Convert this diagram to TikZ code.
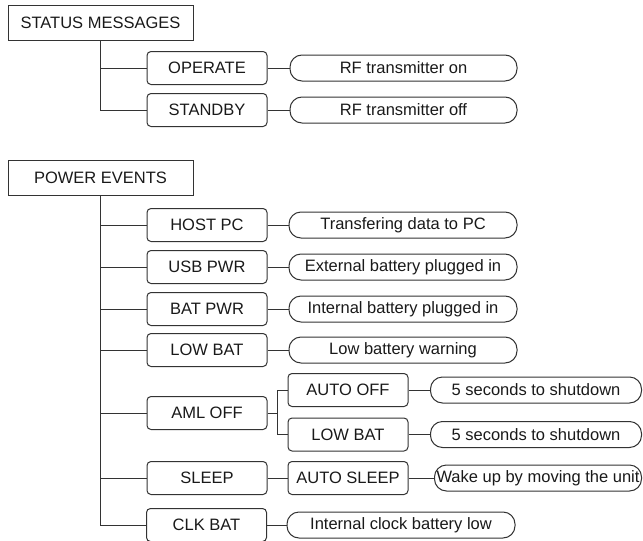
\documentclass[tikz,border=0pt]{standalone}
\usepackage{fontspec}
\setmainfont{Liberation Sans}
\usetikzlibrary{calc}
\begin{document}
\begin{tikzpicture}[x=1pt,y=-1pt,
  every node/.style={font=\fontsize{16.5}{19}\selectfont, text=black!90, draw=black!80, line width=1pt, inner sep=0pt},
  topbox/.style={rectangle, minimum width=185pt, minimum height=35pt},
  stepbox/.style={rectangle, rounded corners=4pt, minimum width=120pt, minimum height=33pt},
  termbox/.style={rectangle, rounded corners=12pt, minimum height=26pt},
  conn/.style={draw=black!80, line width=1pt}]
\useasboundingbox (0,0) rectangle (643,541);
% status messages
\node[topbox] (sm) at (100.5,22.5) {STATUS MESSAGES};
\node[stepbox] (op) at (207,68) {OPERATE};
\node[stepbox] (sb) at (207,110) {STANDBY};
\node[termbox, minimum width=227pt] (ton) at (403.5,68) {RF transmitter on};
\node[termbox, minimum width=227pt] (toff) at (403.5,110) {RF transmitter off};
\draw[conn] (sm.south) |- (sb.west);
\draw[conn] (sm.south |- op.west) -- (op.west);
\draw[conn] (op.east) -- (ton.west);
\draw[conn] (sb.east) -- (toff.west);
% power events
\node[topbox] (pe) at (100.5,177.5) {POWER EVENTS};
\node[stepbox] (hp) at (207,225) {HOST PC};
\node[stepbox] (usb) at (207,267) {USB PWR};
\node[stepbox] (bat) at (207,309) {BAT PWR};
\node[stepbox] (low) at (207,350) {LOW BAT};
\node[stepbox] (aml) at (207,413) {AML OFF};
\node[stepbox] (slp) at (207,478) {SLEEP};
\node[stepbox] (clk) at (206.5,525) {CLK BAT};
\node[stepbox] (ao) at (348,390) {AUTO OFF};
\node[stepbox] (lb) at (348,434.5) {LOW BAT};
\node[stepbox] (as) at (348,478) {AUTO SLEEP};
\node[termbox, minimum width=228pt] (thp) at (403,225) {Transfering data to PC};
\node[termbox, minimum width=228pt] (tusb) at (403,267) {External battery plugged in};
\node[termbox, minimum width=228pt] (tbat) at (403,309) {Internal battery plugged in};
\node[termbox, minimum width=228pt] (tlow) at (403,350) {Low battery warning};
\node[termbox, minimum width=228pt] (tclk) at (401,525) {Internal clock battery low};
\node[termbox, minimum width=211pt] (tao) at (536,390) {5 seconds to shutdown};
\node[termbox, minimum width=211pt] (tlb) at (536,434.5) {5 seconds to shutdown};
\node[termbox, minimum width=207pt] (twk) at (538,478) {Wake up by moving the unit};
\draw[conn] (pe.south) |- (clk.west);
\foreach \n in {hp,usb,bat,low,aml,slp}{
  \draw[conn] (pe.south |- \n.west) -- (\n.west);
}
\draw[conn] (hp.east) -- (thp.west);
\draw[conn] (usb.east) -- (tusb.west);
\draw[conn] (bat.east) -- (tbat.west);
\draw[conn] (low.east) -- (tlow.west);
\draw[conn] (clk.east) -- (tclk.west);
\path (aml.east) -- (aml.east -| ao.west) coordinate[midway] (j);
\draw[conn] (aml.east) -- (j);
\draw[conn] (ao.west) -| (j) |- (lb.west);
\draw[conn] (ao.east) -- (tao.west);
\draw[conn] (lb.east) -- (tlb.west);
\draw[conn] (slp.east) -- (as.west);
\draw[conn] (as.east) -- (twk.west);
\end{tikzpicture}
\end{document}
